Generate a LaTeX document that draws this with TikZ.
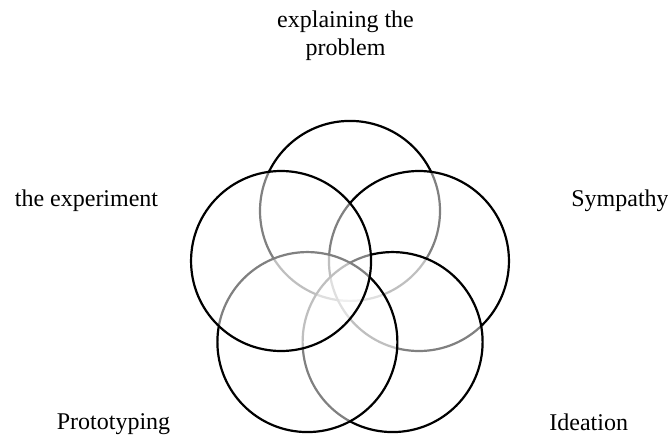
\documentclass[tikz,border=0pt]{standalone}
\usepackage{fontspec}
\setmainfont{Liberation Serif}
\tikzset{
  petal/.style={circle, draw=black, line width=2.2pt, fill=white, fill opacity=0.5,
    minimum size=180pt, inner sep=0pt},
  stage/.style={font=\fontsize{24}{28}\selectfont, inner sep=0pt, align=center},
}
\begin{document}
\begin{tikzpicture}[yscale=-1,x=1pt,y=1pt]
    \useasboundingbox (0,0) rectangle (668,440);

    % five overlapping circles, drawn clockwise from the top
    \coordinate (hub) at (350,283.4);
    \foreach \name/\ang in {explain/-90, sympathy/-18, ideation/54, proto/126, experiment/198}
        \node[petal] (\name) at ([shift={(\ang:72.5)}]hub) {};

    % labels (base = last line)
    \node[stage, anchor=base] (explain label) at (345.5,55) {explaining the\\problem};
    \node[stage, anchor=base] (experiment label) at (86.5,206.7) {the experiment};
    \node[stage, anchor=base] (sympathy label) at (620,206.7) {Sympathy};
    \node[stage, anchor=base] (proto label) at (113.5,429.3) {Prototyping};
    \node[stage, anchor=base] (ideation label) at (588.7,430) {Ideation};
\end{tikzpicture}
\end{document}
